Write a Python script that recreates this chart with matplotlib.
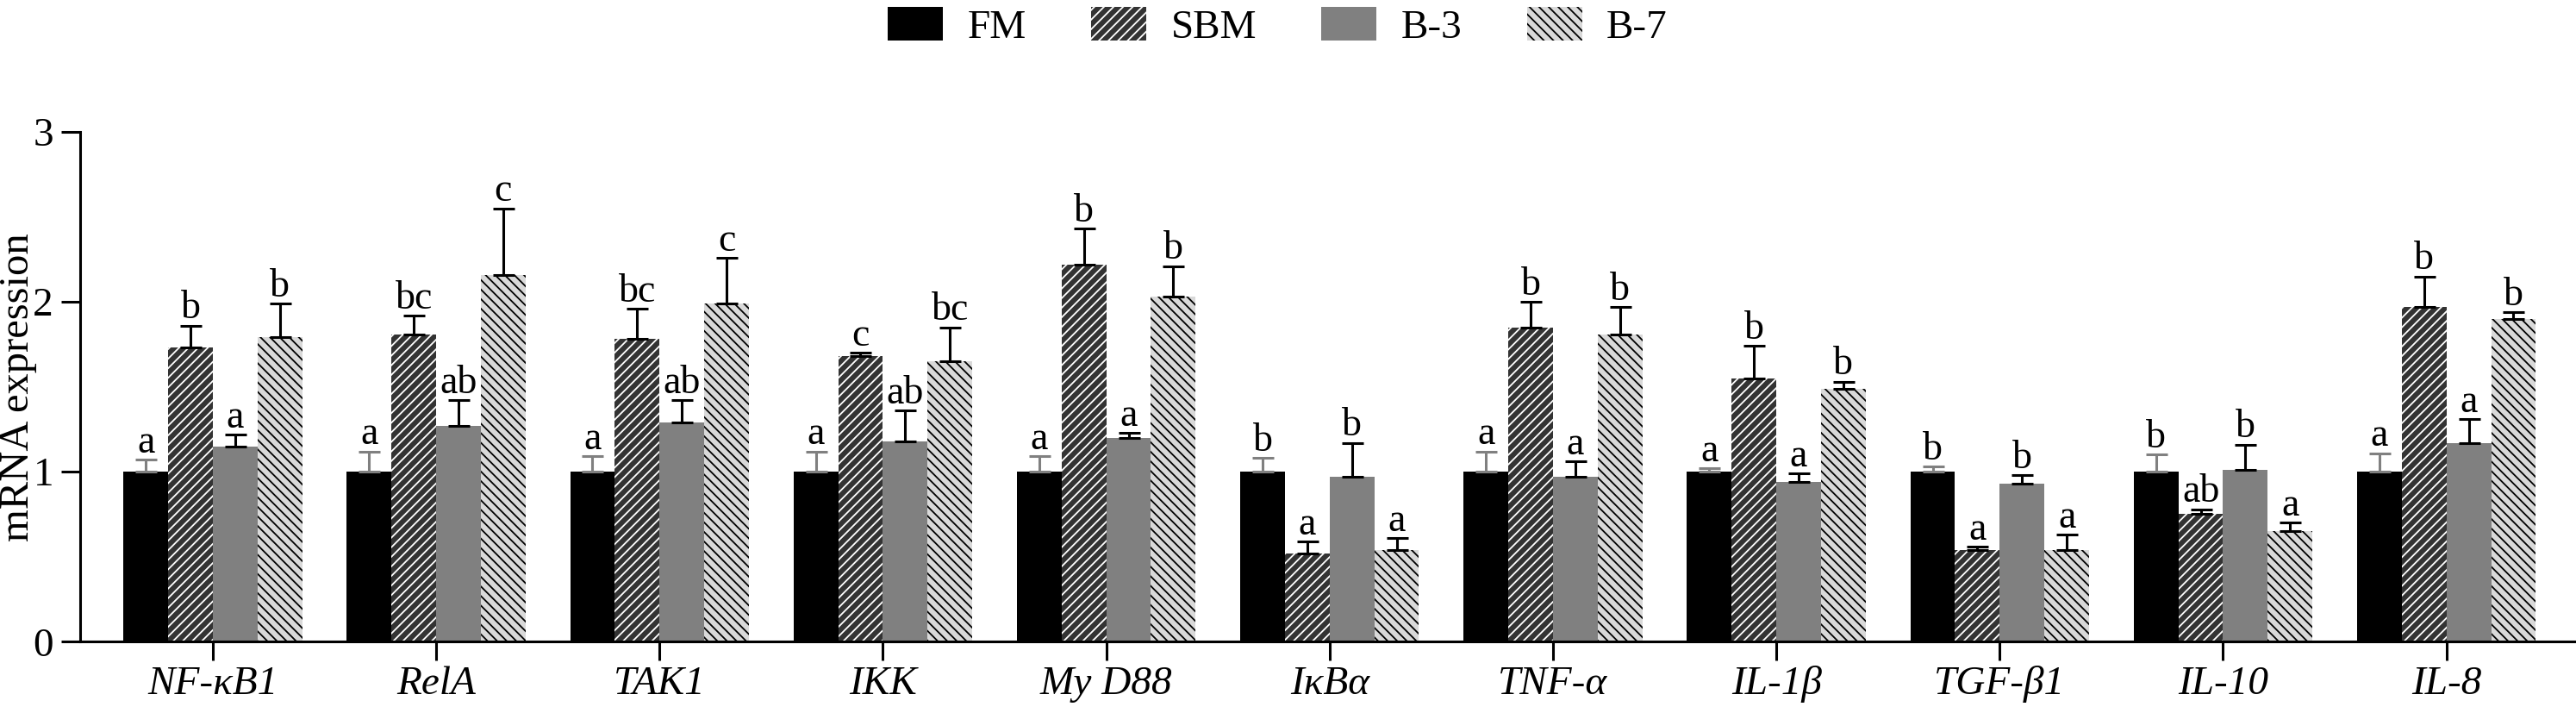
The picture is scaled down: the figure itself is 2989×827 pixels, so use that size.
import numpy as np
import matplotlib
matplotlib.use('Agg')
import matplotlib.pyplot as plt

plt.rcParams['font.family'] = ['Liberation Serif', 'DejaVu Serif']
plt.rcParams['hatch.linewidth'] = 1.3

genes = ['NF-κB1', 'RelA', 'TAK1', 'IKK', 'My D88', 'IκBα',
         'TNF-α', 'IL-1β', 'TGF-β1', 'IL-10', 'IL-8']
groups = ['FM', 'SBM', 'B-3', 'B-7']

fm = [1.00, 1.00, 1.00, 1.00, 1.00, 1.00, 1.00, 1.00, 1.00, 1.00, 1.00]
fm_err = [0.07, 0.12, 0.09, 0.12, 0.09, 0.08, 0.12, 0.02, 0.03, 0.10, 0.11]
sbm = [1.73, 1.81, 1.78, 1.68, 2.22, 0.52, 1.85, 1.55, 0.54, 0.75, 1.97]
sbm_err = [0.13, 0.11, 0.18, 0.02, 0.21, 0.07, 0.15, 0.19, 0.02, 0.03, 0.18]
b3 = [1.15, 1.27, 1.29, 1.18, 1.20, 0.97, 0.97, 0.94, 0.93, 1.01, 1.17]
b3_err = [0.07, 0.15, 0.13, 0.18, 0.03, 0.20, 0.09, 0.05, 0.05, 0.15, 0.14]
b7 = [1.79, 2.16, 1.99, 1.65, 2.03, 0.54, 1.81, 1.49, 0.54, 0.65, 1.90]
b7_err = [0.20, 0.39, 0.27, 0.20, 0.18, 0.07, 0.16, 0.04, 0.09, 0.05, 0.04]

fm_sig = ['a', 'a', 'a', 'a', 'a', 'b', 'a', 'a', 'b', 'b', 'a']
sbm_sig = ['b', 'bc', 'bc', 'c', 'b', 'a', 'b', 'b', 'a', 'ab', 'b']
b3_sig = ['a', 'ab', 'ab', 'ab', 'a', 'b', 'a', 'a', 'b', 'b', 'a']
b7_sig = ['b', 'c', 'c', 'bc', 'b', 'a', 'b', 'b', 'a', 'a', 'b']

series = [
    (fm, fm_err, fm_sig, dict(color='black'), '#808080'),
    (sbm, sbm_err, sbm_sig, dict(facecolor='#333333', edgecolor='white', hatch='///'), 'black'),
    (b3, b3_err, b3_sig, dict(color='#808080'), 'black'),
    (b7, b7_err, b7_sig, dict(facecolor='#d9d9d9', edgecolor='black', hatch='\\\\\\'), 'black'),
]

fig = plt.figure(figsize=(29.89, 8.27), dpi=100)
ax = fig.add_axes([0.0310, 0.100, 0.969, 0.715])

x = np.arange(len(genes))
width = 0.2
offsets = [-0.3, -0.1, 0.1, 0.3]

handles = []
for (vals, errs, sig, style, ecol), off, name in zip(series, offsets, groups):
    bars = ax.bar(x + off, vals, width, linewidth=0, label=name, **style)
    handles.append(bars)
    ax.errorbar(x + off, vals, yerr=[np.zeros(len(errs)), errs], fmt='none',
                ecolor=ecol, elinewidth=2.2, capsize=9, capthick=2.2)
    for xi, v, e, s in zip(x + off, vals, errs, sig):
        ax.annotate(s, (xi, v + e), xytext=(0, 6), textcoords='offset points',
                    ha='center', va='baseline', fontsize=33)

ax.set_xlim(-0.595, 10.58)
ax.set_ylim(0, 3)
ax.set_yticks([0, 1, 2, 3])
ax.set_xticks(x)
ax.set_xticklabels(genes, fontstyle='italic', fontsize=34)
ax.tick_params(axis='y', labelsize=34, length=16, width=2.2, pad=6)
ax.tick_params(axis='x', length=16, width=2.2, pad=4)
ax.spines['top'].set_visible(False)
ax.spines['right'].set_visible(False)
ax.spines['left'].set_linewidth(2.2)
ax.spines['bottom'].set_linewidth(2.2)
ax.set_ylabel('mRNA expression', fontsize=35)
ax.yaxis.set_label_coords(-0.017, 0.5)

fig.legend(handles=handles, labels=groups, loc='center', bbox_to_anchor=(0.496, 0.963),
           ncol=4, frameon=False, fontsize=34, handlelength=1.35, handleheight=0.9,
           handletextpad=0.6, columnspacing=1.6)

fig.savefig('out.png', dpi=100)
